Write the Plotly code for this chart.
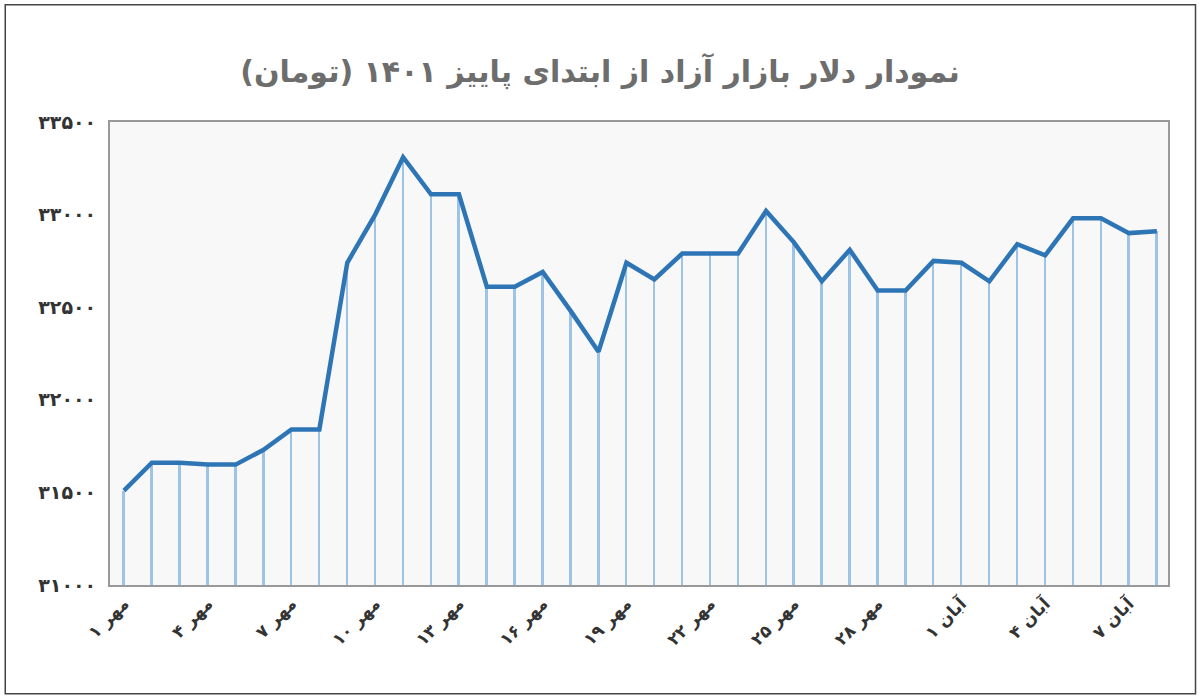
import plotly.graph_objects as go

fa = str.maketrans("0123456789", "۰۱۲۳۴۵۶۷۸۹")
days = [f"{d} مهر" for d in range(1, 31)] + [f"{d} آبان" for d in range(1, 9)]
days = [d.translate(fa) for d in days]
values = [31510, 31660, 31660, 31650, 31650, 31730, 31840, 31840, 32740, 33000,
          33310, 33110, 33110, 32610, 32610, 32690, 32480, 32260, 32740, 32650,
          32790, 32790, 32790, 33020, 32850, 32640, 32810, 32590, 32590, 32750,
          32740, 32640, 32840, 32780, 32980, 32980, 32900, 32910]
yticks = [31000, 31500, 32000, 32500, 33000, 33500]
title = "<b>نمودار دلار بازار آزاد از ابتدای پاییز ۱۴۰۱ (تومان)</b>"

fig = go.Figure()
fig.add_trace(go.Bar(x=days, y=[v - 31000 for v in values], base=31000, width=0.07,
                     marker=dict(color="#9dc3e6", line_width=0), hoverinfo="skip"))
fig.add_trace(go.Scatter(x=days, y=values, mode="lines",
                         line=dict(color="#2e75b6", width=4.5)))
fig.update_layout(
    width=1200, height=699, showlegend=False,
    paper_bgcolor="white", plot_bgcolor="#f8f8f8",
    margin=dict(l=110, r=32, t=122, b=114, autoexpand=False),
    title=dict(text=title, x=0.5, y=0.897, xanchor="center", yanchor="middle",
               font=dict(family="DejaVu Sans", size=30, color="#6d6d6d")),
    font=dict(family="DejaVu Sans", color="#333"),
    xaxis=dict(tickvals=days[::3], ticktext=[f"<b>{d}</b>" for d in days[::3]],
               tickangle=-45, showgrid=False, range=[-0.5, 37.4], automargin=False,
               tickfont=dict(size=17, color="#333"), showline=True, linecolor="#999",
               linewidth=2, mirror=True, ticks=""),
    yaxis=dict(range=[31000, 33500], tickvals=yticks, automargin=False,
               ticktext=[f"<b>{str(v).translate(fa)}</b>" for v in yticks],
               tickfont=dict(size=19, color="#333"), showgrid=False, ticklabelstandoff=8,
               showline=True, linecolor="#999", linewidth=2, mirror=True),
    bargap=0,
    shapes=[dict(type="rect", xref="paper", yref="paper", x0=-0.099, x1=1.026,
                 y0=-0.235, y1=1.253, line=dict(color="#444", width=1.5))],
)
fig.write_html("out.html", post_script="document.body.style.margin='0';",
               config={"displayModeBar": False})
